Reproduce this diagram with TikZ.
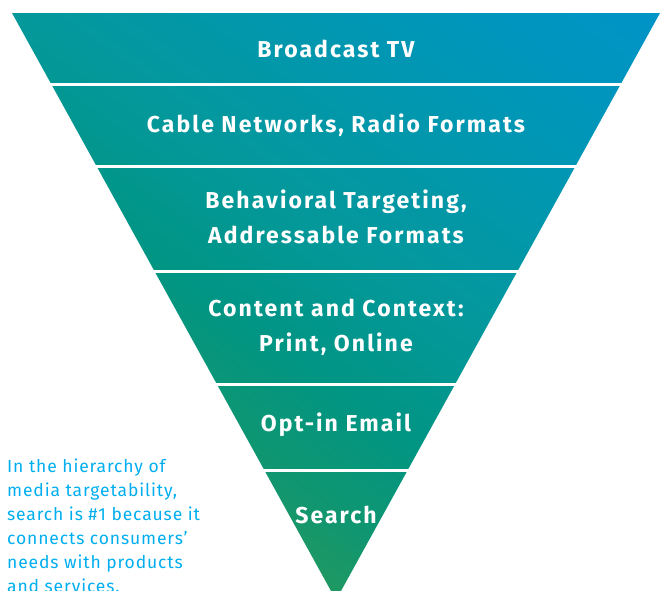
\documentclass[tikz,border=0pt]{standalone}
\usepackage{fontspec}
\setmainfont{Fira Sans}
\newfontfamily\bandfont[LetterSpace=9]{Fira Sans}
\newfontfamily\notefont[LetterSpace=5]{Fira Sans}
\definecolor{fsA}{RGB}{60,156,70}
\definecolor{fsB}{RGB}{50,155,78}
\definecolor{fsC}{RGB}{16,150,112}
\definecolor{fsD}{RGB}{0,149,132}
\definecolor{fsE}{RGB}{4,152,156}
\definecolor{fsF}{RGB}{0,150,184}
\definecolor{fsG}{RGB}{0,147,206}
\definecolor{fsH}{RGB}{0,146,214}
\definecolor{notecyan}{RGB}{0,174,239}
\pgfdeclareverticalshading{funnelshade}{100bp}{%
  color(0bp)=(fsA); color(24bp)=(fsB); color(36bp)=(fsC);
  color(45bp)=(fsD); color(55bp)=(fsE); color(73bp)=(fsF);
  color(90bp)=(fsG); color(100bp)=(fsH)}
\begin{document}
\begin{tikzpicture}[x=1pt,y=-1pt,
  bandtext/.style={text=white,font=\bandfont\bfseries\fontsize{23}{35}\selectfont,align=center,anchor=center},
  sepline/.style={draw=white,line width=3pt},
  notetext/.style={text=notecyan,font=\notefont\fontsize{17.5}{24}\selectfont,align=left,anchor=north west,inner sep=0pt}]
  \useasboundingbox (0,0) rectangle (662,590);
  \begin{scope}
    \clip (0,0) rectangle (662,590);
    % funnel body
    \shade[shading=funnelshade,shading angle=-35]
      (12,13) -- (660,13) -- (336,600) -- cycle;
    % band separators
    \foreach \yy in {84.5,166.5,271.5,384.5,470.5}
      \draw[sepline] (0,\yy) -- (662,\yy);
    % band labels
    \node[bandtext] (tv) at (336,49) {Broadcast TV};
    \node[bandtext] (cable) at (336,125) {Cable Networks, Radio Formats};
    \node[bandtext] (behav) at (336,217) {Behavioral Targeting,\\Addressable Formats};
    \node[bandtext] (content) at (336,327) {Content and Context:\\Print, Online};
    \node[bandtext] (email) at (336,425) {Opt-in Email};
    \node[bandtext] (search) at (336,515) {Search};
    % side note
    \node[notetext] (note) at (7,459) {In the hierarchy of\\media targetability,\\search is \#1 because it\\connects consumers’\\needs with products\\and services.};
  \end{scope}
\end{tikzpicture}
\end{document}
